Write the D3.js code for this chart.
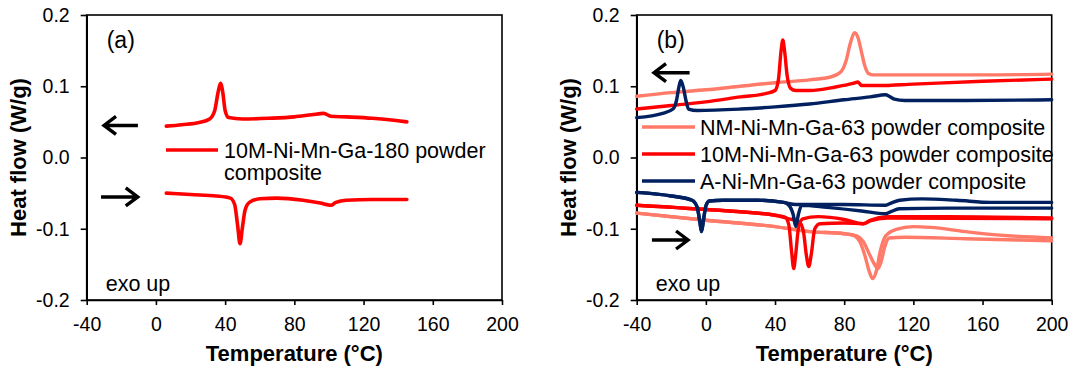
<!DOCTYPE html>
<html>
<head>
<meta charset="utf-8">
<script src="https://cdn.jsdelivr.net/npm/d3@7"></script>
<style>
  body { margin: 0; background: #ffffff; }
  text { font-family: Arial, "Liberation Sans", sans-serif; }
</style>
</head>
<body>
<div id="chart"></div>
<script>
"use strict";

// ---- data: [temperature °C, heat flow W/g] ----
const xTicks = [-40, 0, 40, 80, 120, 160, 200];
const yTicks = [-0.2, -0.1, 0.0, 0.1, 0.2];

// panel (a) 10M-Ni-Mn-Ga-180
const a10mCool = [[6,0.044],[15,0.046],[25,0.049],[31,0.054],[34,0.066],[35.8,0.090],[37.3,0.104],[38.6,0.092],[40,0.066],[42,0.056],[50,0.054],[65,0.055],[80,0.057],[90,0.060],[97,0.062],[101,0.058],[110,0.057],[125,0.055],[145,0.050]];
const a10mHeat = [[6,-0.050],[20,-0.052],[35,-0.054],[43,-0.057],[45.5,-0.066],[47.2,-0.095],[48.6,-0.121],[50,-0.098],[51.5,-0.074],[54,-0.063],[60,-0.058],[70,-0.057],[85,-0.060],[95,-0.064],[101,-0.067],[104,-0.063],[110,-0.060],[125,-0.059],[145,-0.059]];

// panel (b) -63 composites
const nmCool = [[-40,0.086],[-20,0.091],[0,0.095],[20,0.100],[40,0.105],[60,0.109],[72,0.113],[78,0.120],[81,0.135],[83.5,0.160],[86,0.175],[88,0.168],[90,0.148],[92,0.128],[94,0.118],[97,0.116],[120,0.116],[160,0.116],[200,0.117]];
const nmHeat1 = [[-40,-0.078],[0,-0.088],[40,-0.097],[60,-0.104],[80,-0.107],[86,-0.110],[89,-0.118],[92,-0.138],[94.5,-0.160],[96.5,-0.170],[98.5,-0.160],[101,-0.130],[104,-0.110],[110,-0.101],[120,-0.097],[130,-0.098],[150,-0.104],[170,-0.109],[200,-0.113]];
const nmHeat2 = [[-40,-0.078],[0,-0.088],[40,-0.097],[60,-0.104],[80,-0.107],[87,-0.110],[91,-0.118],[95,-0.138],[97.5,-0.150],[99.5,-0.156],[101.5,-0.145],[103.5,-0.125],[106,-0.113],[115,-0.112],[150,-0.114],[200,-0.117]];

const m10Cool = [[-40,0.068],[-20,0.073],[0,0.078],[20,0.085],[35,0.090],[40,0.094],[42,0.110],[43.5,0.150],[44.5,0.165],[45.5,0.150],[47,0.115],[49,0.097],[52,0.094],[60,0.094],[75,0.099],[85,0.104],[88,0.106],[90,0.101],[100,0.101],[120,0.103],[160,0.107],[200,0.110]];
const m10Heat1 = [[-40,-0.067],[0,-0.073],[40,-0.081],[46,-0.084],[48,-0.095],[49.5,-0.130],[50.8,-0.156],[52,-0.135],[53.5,-0.100],[56,-0.086],[65,-0.083],[80,-0.087],[91,-0.093],[95,-0.088],[105,-0.083],[140,-0.083],[200,-0.085]];
const m10Heat2 = [[-40,-0.067],[0,-0.073],[40,-0.081],[48,-0.086],[54,-0.090],[56.5,-0.105],[58,-0.135],[59.5,-0.153],[61,-0.135],[63,-0.100],[66,-0.093],[80,-0.092],[91,-0.093],[95,-0.089],[105,-0.085],[200,-0.086]];

const aCool = [[-40,0.056],[-25,0.062],[-19,0.068],[-17,0.080],[-15.5,0.100],[-14.5,0.108],[-13,0.098],[-11.5,0.080],[-10,0.068],[-5,0.066],[20,0.068],[40,0.071],[60,0.075],[80,0.081],[95,0.085],[104,0.088],[106,0.086],[109,0.082],[115,0.080],[150,0.080],[200,0.081]];
const aHeat1 = [[-40,-0.049],[-20,-0.054],[-8,-0.060],[-5,-0.070],[-3.5,-0.090],[-2.5,-0.104],[-1.5,-0.090],[0,-0.068],[2,-0.061],[10,-0.060],[30,-0.060],[45,-0.063],[52,-0.066],[80,-0.066],[104,-0.067],[107,-0.064],[112,-0.060],[125,-0.058],[145,-0.060],[165,-0.063],[200,-0.063]];
const aHeat2 = [[-40,-0.049],[-20,-0.054],[-8,-0.060],[-5,-0.070],[-3.5,-0.090],[-2.5,-0.104],[-1.5,-0.090],[0,-0.068],[2,-0.061],[10,-0.060],[30,-0.060],[45,-0.063],[48,-0.067],[50.5,-0.080],[52,-0.097],[53.5,-0.080],[55.5,-0.067],[70,-0.070],[90,-0.075],[104,-0.079],[107,-0.076],[112,-0.072],[140,-0.071],[200,-0.071]];

const legendA = ["10M-Ni-Mn-Ga-180 powder", "composite"];
const legendB = ["NM-Ni-Mn-Ga-63 powder composite", "10M-Ni-Mn-Ga-63 powder composite", "A-Ni-Mn-Ga-63 powder composite"];

const RED = "#ff0000", SALMON = "#ff7a68", NAVY = "#002060";

const svg = d3.select("#chart").append("svg")
    .attr("width", 1072)
    .attr("height", 369);

svg.append("rect").attr("width", 1072).attr("height", 369).attr("fill", "#ffffff");

const y = d3.scaleLinear().domain([-0.2, 0.2]).range([300, 15]);

function drawPanel(left, right, label) {
    const x = d3.scaleLinear().domain([-40, 200]).range([left, right]);
    const g = svg.append("g");

    // frame
    g.append("rect")
        .attr("x", left).attr("y", y(0.2))
        .attr("width", right - left).attr("height", y(-0.2) - y(0.2))
        .attr("fill", "none").attr("stroke", "#000").attr("stroke-width", 1.6);

    const xAxis = g.append("g")
        .attr("transform", "translate(0," + y(-0.2) + ")")
        .call(d3.axisBottom(x).tickValues(xTicks).tickFormat(d => String(d)).tickSize(5).tickSizeOuter(0).tickPadding(12));
    const yAxis = g.append("g")
        .attr("transform", "translate(" + left + ",0)")
        .call(d3.axisLeft(y).tickValues(yTicks).tickFormat(d => d.toFixed(1)).tickSize(6).tickSizeOuter(0).tickPadding(11));

    [xAxis, yAxis].forEach(ax => {
        ax.select(".domain").attr("stroke-width", 1.6);
        ax.selectAll(".tick line").attr("stroke-width", 1.6);
        ax.selectAll(".tick text")
            .attr("font-size", 19.5)
            .attr("font-family", "Arial, 'Liberation Sans', sans-serif")
            .attr("fill", "#000");
    });

    // axis titles
    g.append("text")
        .attr("x", (left + right) / 2).attr("y", 361)
        .attr("text-anchor", "middle")
        .attr("font-size", 22).attr("font-weight", "bold")
        .text("Temperature (°C)");

    g.append("text")
        .attr("transform", "translate(" + (left - 61) + "," + y(0) + ") rotate(-90)")
        .attr("text-anchor", "middle")
        .attr("font-size", 22).attr("font-weight", "bold")
        .text("Heat flow (W/g)");

    g.append("text")
        .attr("x", left + 20).attr("y", 48)
        .attr("font-size", 23)
        .text(label);

    g.append("text")
        .attr("x", left + 19).attr("y", 291)
        .attr("font-size", 21.5)
        .text("exo up");

    return { g, x };
}

function drawCurve(panel, data, color, width) {
    panel.g.append("path")
        .datum(data)
        .attr("fill", "none")
        .attr("stroke", color)
        .attr("stroke-width", width)
        .attr("stroke-linejoin", "round")
        .attr("stroke-linecap", "round")
        .attr("d", d3.line()
            .curve(d3.curveMonotoneX)
            .x(function(d) { return panel.x(d[0]); })
            .y(function(d) { return y(d[1]); })
        );
}

// arrow annotations, in data units
function drawArrow(panel, t0, t1, v) {
    const x0 = panel.x(t0), x1 = panel.x(t1), yy = y(v);
    const dir = x1 > x0 ? 1 : -1;
    panel.g.append("path")
        .attr("d", "M" + x0 + "," + yy + "L" + x1 + "," + yy +
            "M" + (x1 - dir * 12) + "," + (yy - 9) + "L" + x1 + "," + yy + "L" + (x1 - dir * 12) + "," + (yy + 9))
        .attr("fill", "none")
        .attr("stroke", "#000")
        .attr("stroke-width", 3.4)
        .attr("stroke-linejoin", "miter");
}

// ---- panel (a) ----
const pA = drawPanel(86.7, 502, "(a)");
drawCurve(pA, a10mCool, RED, 3.6);
drawCurve(pA, a10mHeat, RED, 3.6);
drawArrow(pA, -10.4, -30, 0.045);
drawArrow(pA, -31.7, -10.5, -0.0554);

pA.g.append("line")
    .attr("x1", 166).attr("x2", 218).attr("y1", 150).attr("y2", 150)
    .attr("stroke", RED).attr("stroke-width", 3.6);
pA.g.append("text")
    .attr("x", 224).attr("y", 158)
    .attr("font-size", 21.5)
    .selectAll("tspan")
    .data(legendA)
    .join("tspan")
    .attr("x", 224)
    .attr("dy", (d, i) => i === 0 ? 0 : 22)
    .text(d => d);

// ---- panel (b) ----
const pB = drawPanel(636.7, 1051.7, "(b)");
drawCurve(pB, nmCool, SALMON, 3.4);
drawCurve(pB, nmHeat1, SALMON, 3.4);
drawCurve(pB, nmHeat2, SALMON, 3.4);
drawCurve(pB, m10Cool, RED, 3.4);
drawCurve(pB, m10Heat1, RED, 3.4);
drawCurve(pB, m10Heat2, RED, 3.4);
drawCurve(pB, aCool, NAVY, 3.4);
drawCurve(pB, aHeat1, NAVY, 3.4);
drawCurve(pB, aHeat2, NAVY, 3.4);
drawArrow(pB, -9.4, -30, 0.119);
drawArrow(pB, -31.2, -10.3, -0.1158);

const legendColors = [SALMON, RED, NAVY];
const legendY = [127, 154, 181];
legendB.forEach((name, i) => {
    pB.g.append("line")
        .attr("x1", 642).attr("x2", 695).attr("y1", legendY[i]).attr("y2", legendY[i])
        .attr("stroke", legendColors[i]).attr("stroke-width", 3.6);
    pB.g.append("text")
        .attr("x", 700).attr("y", legendY[i] + 7.5)
        .attr("font-size", 21.5)
        .text(name);
});
</script>
</body>
</html>
